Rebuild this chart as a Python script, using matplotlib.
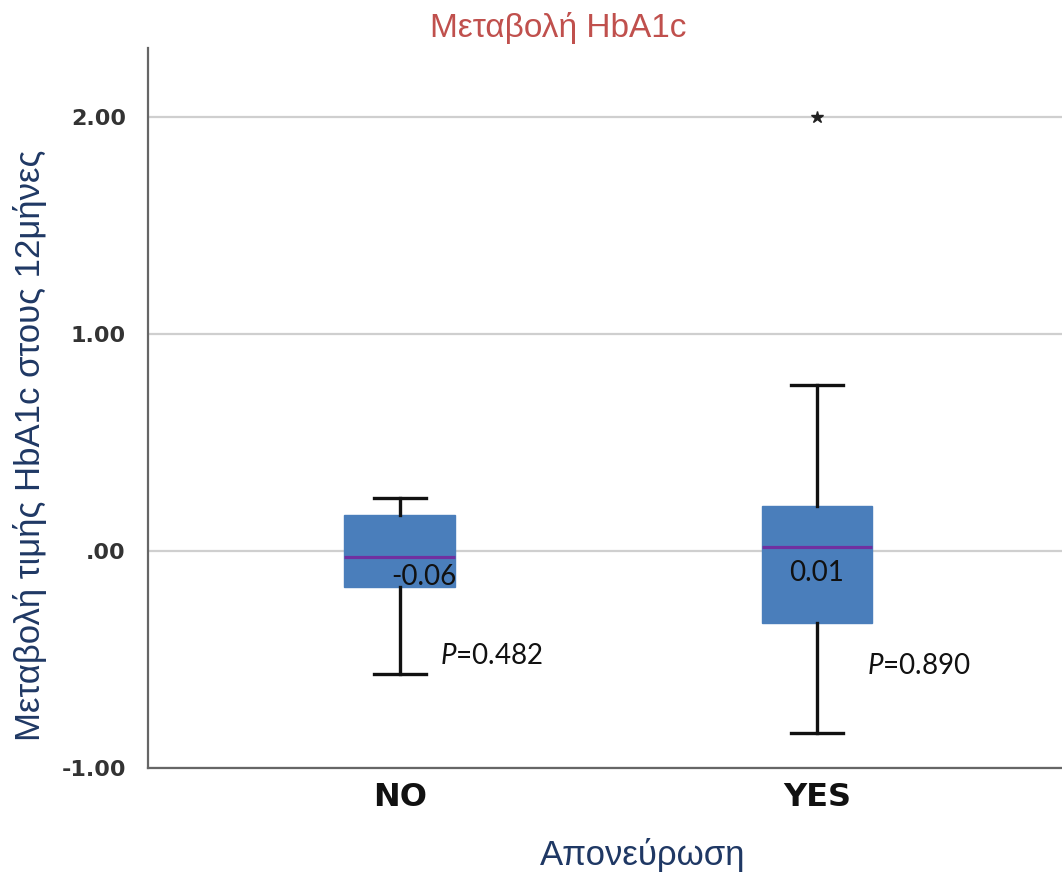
import matplotlib
matplotlib.use("Agg")
import matplotlib.pyplot as plt

# change in HbA1c after 12 months, by denervation group
groups = ["NO", "YES"]
q1 = [-0.167, -0.333]
q3 = [0.166, 0.209]
medians = [-0.029, 0.018]
whisk_lo = [-0.567, -0.837]
whisk_hi = [0.245, 0.765]
outliers = [[], [2.00]]
mean_text = ["-0.06", "0.01"]
p_values = ["0.482", "0.890"]

yticks = [-1.0, 0.0, 1.0, 2.0]
ytick_labels = ["-1.00", ".00", "1.00", "2.00"]

plt.rcParams["mathtext.fontset"] = "custom"
plt.rcParams["mathtext.it"] = "Lato:italic"
plt.rcParams["mathtext.rm"] = "Lato"

W, H = 1062, 874
fig = plt.figure(figsize=(W / 100, H / 100), dpi=100)
ax = fig.add_axes([148 / W, 1 - 768 / H, 914 / W, 720 / H])

stats = []
for i in range(len(groups)):
    stats.append(dict(label=groups[i], med=medians[i], q1=q1[i], q3=q3[i],
                      whislo=whisk_lo[i], whishi=whisk_hi[i], fliers=outliers[i]))

pos = list(range(len(groups)))
ax.bxp(stats, positions=pos, widths=0.266, capwidths=0.125, patch_artist=True,
       boxprops=dict(facecolor="#4a7ebb", edgecolor="#4a7ebb", linewidth=1),
       medianprops=dict(color="#7030a0", linewidth=2.3),
       whiskerprops=dict(color="#111111", linewidth=2.4),
       capprops=dict(color="#111111", linewidth=2.4),
       flierprops=dict(marker="*", markersize=9, markerfacecolor="#222222",
                       markeredgecolor="#222222"),
       zorder=3)

ax.set_xlim(-0.604, 1.5875)
ax.set_ylim(-1.0, 2.32)

ax.set_yticks(yticks)
ax.set_yticklabels(ytick_labels, fontsize=16, fontweight="bold", color="#333333",
                   family="DejaVu Sans")
ax.set_xticks(pos)
ax.set_xticklabels(groups, fontsize=23, fontweight="bold", color="#111111",
                   family="DejaVu Sans")
ax.tick_params(axis="y", length=0, pad=16)
ax.tick_params(axis="x", length=0, pad=10)

ax.grid(axis="y", color="#cfcfcf", linewidth=1.6, zorder=0)
ax.set_axisbelow(True)
for s in ["top", "right"]:
    ax.spines[s].set_visible(False)
for s in ["left", "bottom"]:
    ax.spines[s].set_color("#666666")
    ax.spines[s].set_linewidth(1.6)

# mean value inside each box and p-value beside the lower whisker
mean_x = [0.135, 0.0]
mean_y = [-0.09, -0.12]
for i in range(len(groups)):
    ax.text(i + mean_x[i], medians[i] + mean_y[i], mean_text[i],
            ha="right" if i == 0 else "center", va="center",
            fontsize=20, family="Lato", color="#111111", zorder=4)
p_xy = [(0.095, -0.485), (0.12, -0.528)]
for i in range(len(groups)):
    ax.text(i + p_xy[i][0], p_xy[i][1], r"$\mathit{P}$=" + p_values[i],
            ha="left", va="center", fontsize=20, family="Lato", color="#111111")

fig.text(558 / W, 1 - 28 / H, "Μεταβολή HbA1c", ha="center", va="center",
         fontsize=24, color="#c0504d", family="Liberation Sans")
fig.text(30 / W, 1 - 445 / H, "Μεταβολή τιμής HbA1c στους 12μήνες", rotation=90,
         ha="center", va="center", fontsize=25, color="#1f3864",
         family="Liberation Sans")
fig.text(643 / W, 1 - 855 / H, "Απονεύρωση", ha="center", va="center",
         fontsize=25, color="#1f3864", family="Liberation Sans")

fig.savefig("out.png", dpi=100)
